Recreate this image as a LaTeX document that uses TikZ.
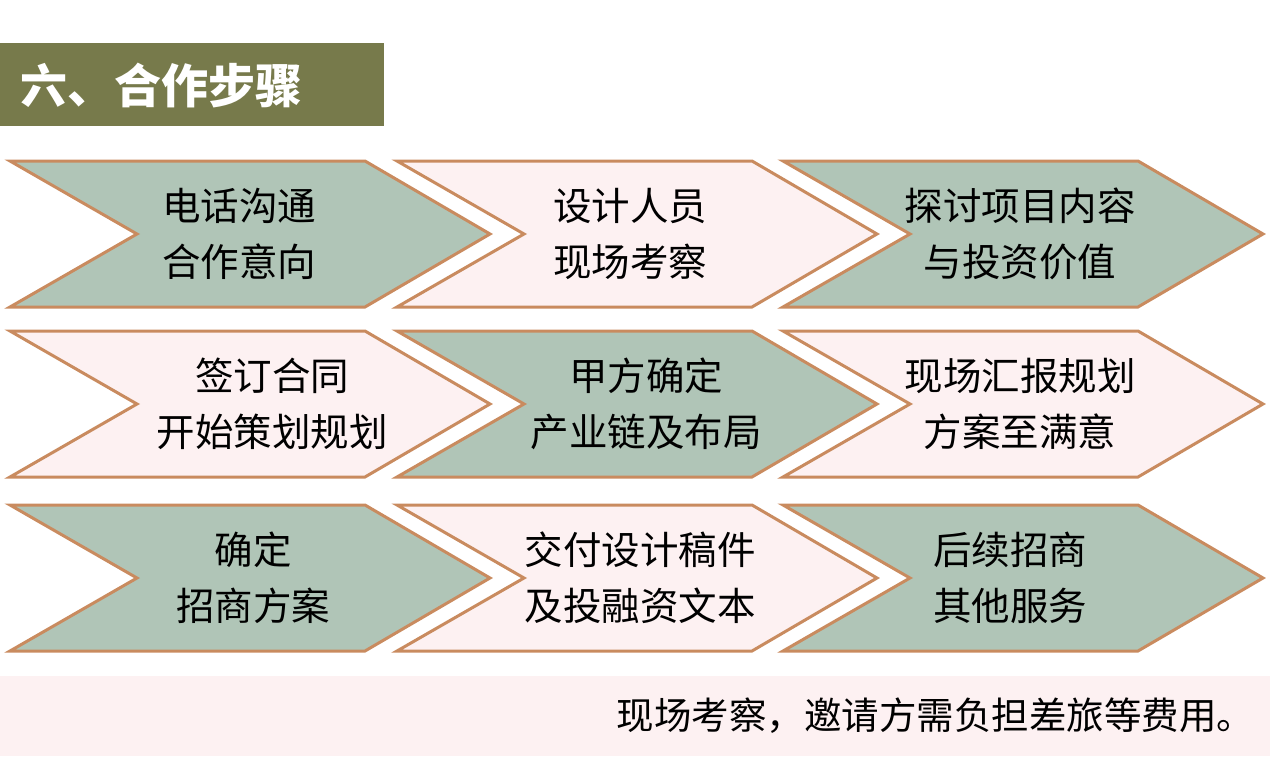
\documentclass[tikz,border=0pt]{standalone}
\usepackage{fontspec}
\newfontfamily\cjk{Noto Sans CJK SC}
\usetikzlibrary{positioning}
\definecolor{titlebar}{HTML}{777A4B}
\definecolor{sage}{HTML}{B0C5B7}
\definecolor{blush}{HTML}{FDF1F2}
\definecolor{rim}{HTML}{C98B5F}

\begin{document}
\begin{tikzpicture}[
  x=1pt, y=-1pt,
  chev/.style={draw=rim, line width=3pt, line join=miter},
  steptxt/.style={align=center, font=\cjk\fontsize{38.5}{56}\selectfont, text=black},
]
  \useasboundingbox (0,0) rectangle (1270,766);

  % title bar
  \fill[titlebar] (0,43) rectangle (384,126);
  \node[anchor=west, text=white, font=\cjk\bfseries\fontsize{47}{50}\selectfont] (title) at (17,86) {六、合作步骤};

  % chevrons, sage/blush checkerboard
  \foreach \T [count=\r] in {161,331,505} {
    \foreach \L [count=\c] in {10,397,783} {
      \pgfmathtruncatemacro\odd{mod(\r+\c,2)}
      \ifnum\odd=0 \def\fc{sage}\else \def\fc{blush}\fi
      \draw[chev, fill=\fc] (\L,\T) -- ++(355,0) -- ++(125,73) -- ++(-125,73)
        -- ++(-355,0) -- ++(127,-73) -- cycle;
    }
  }

  \node[steptxt] (call)     at (239,234)  {电话沟通\\合作意向};
  \node[steptxt] (survey)   at (630,234)  {设计人员\\现场考察};
  \node[steptxt] (discuss)  at (1020,234) {探讨项目内容\\与投资价值};
  \node[steptxt] (contract) at (272,404)  {签订合同\\开始策划规划};
  \node[steptxt] (confirm)  at (646,404)  {甲方确定\\产业链及布局};
  \node[steptxt] (report)   at (1020,404) {现场汇报规划\\方案至满意};
  \node[steptxt] (plan)     at (253,578)  {确定\\招商方案};
  \node[steptxt] (deliver)  at (640,578)  {交付设计稿件\\及投融资文本};
  \node[steptxt] (service)  at (1010,578) {后续招商\\其他服务};

  % note band
  \fill[blush] (0,676) rectangle (1270,756);
  \node[anchor=east, steptxt, font=\cjk\fontsize{37.5}{50}\selectfont] (note) at (1258,716) {现场考察，邀请方需负担差旅等费用。};
\end{tikzpicture}
\end{document}
